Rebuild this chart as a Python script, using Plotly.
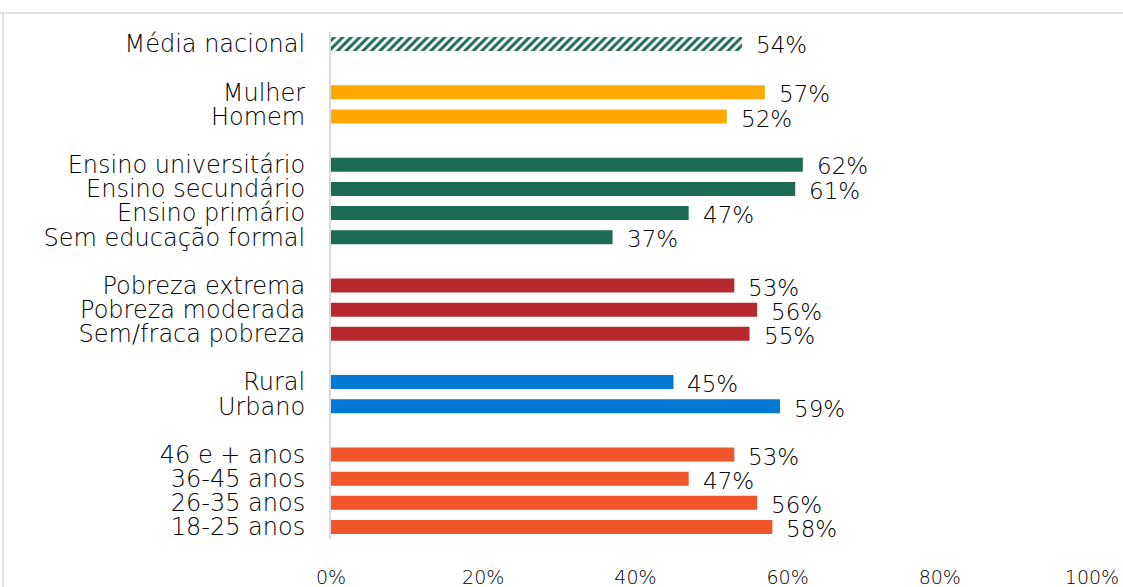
import plotly.graph_objects as go

categories = ["Média nacional", "", "Mulher", "Homem", "",
              "Ensino universitário", "Ensino secundário", "Ensino primário", "Sem educação formal", "",
              "Pobreza extrema", "Pobreza moderada", "Sem/fraca pobreza", "",
              "Rural", "Urbano", "",
              "46 e + anos", "36-45 anos", "26-35 anos", "18-25 anos"]
values = [54, None, 57, 52, None,
          62, 61, 47, 37, None,
          53, 56, 55, None,
          45, 59, None,
          53, 47, 56, 58]
colors = ["#1B6B55", None, "#FFA800", "#FFA800", None,
          "#1B6B55", "#1B6B55", "#1B6B55", "#1B6B55", None,
          "#B8292F", "#B8292F", "#B8292F", None,
          "#0277D4", "#0277D4", None,
          "#F1552B", "#F1552B", "#F1552B", "#F1552B"]
label_dy = [-1, 0, -2, -2, 0, -1, -2, -2, -2, 0, -2, -2, -2, 0, -2, -3, 0, -2, -2, -2, -2]

FONT = "DejaVu Sans"
WEIGHT = 200
pos = list(range(len(categories)))
idx = [i for i in pos if values[i] is not None]

fig = go.Figure()
fig.add_trace(go.Bar(
    x=[values[0]], y=[0], orientation="h", width=0.58,
    marker=dict(color="white", line=dict(width=0),
                pattern=dict(shape="/", fgcolor="#1B6B55", bgcolor="white", fgopacity=1,
                             fillmode="replace", size=6, solidity=0.5)),
    showlegend=False, hoverinfo="skip"))
rest = [i for i in idx if i != 0]
fig.add_trace(go.Bar(
    x=[values[i] for i in rest], y=rest, orientation="h", width=0.58,
    marker=dict(color=[colors[i] for i in rest], line=dict(width=0)),
    showlegend=False, hoverinfo="skip"))

for i in idx:
    fig.add_annotation(x=values[i], y=i, text=f"{values[i]}%", showarrow=False,
                       xanchor="left", xshift=12, yshift=label_dy[i],
                       font=dict(family=FONT, size=23, color="#000000", weight=WEIGHT))

fig.update_layout(
    width=1123, height=587, plot_bgcolor="white", paper_bgcolor="white",
    margin=dict(l=331, r=31, t=32, b=48),
    font=dict(family=FONT, size=24, color="#000000", weight=WEIGHT),
    xaxis=dict(range=[0, 100], tickvals=[0, 20, 40, 60, 80, 100],
               ticktext=["0%", "20%", "40%", "60%", "80%", "100%"],
               showgrid=False, zeroline=False, showline=False, ticks="", automargin=False,
               tickfont=dict(family=FONT, size=19, color="#000000", weight=WEIGHT), ticklabelstandoff=25),
    yaxis=dict(range=[20.5, -0.5], tickvals=pos, ticktext=categories, automargin=False,
               showgrid=False, zeroline=False, showline=True, linecolor="#d9d9d9", linewidth=2,
               ticks="", tickfont=dict(family=FONT, size=24, color="#000000", weight=WEIGHT),
               ticklabelstandoff=19),
    shapes=[
        dict(type="line", xref="paper", yref="paper", x0=-0.45, x1=1.1,
             y0=(539 - 13) / 507, y1=(539 - 13) / 507, line=dict(color="#d9d9d9", width=1.5)),
        dict(type="line", xref="paper", yref="paper", x0=(3 - 331) / 761, x1=(3 - 331) / 761,
             y0=(539 - 13) / 507, y1=-0.2, line=dict(color="#d9d9d9", width=1.5)),
    ],
)
fig.write_html("out.html", post_script="document.body.style.margin='0';",
               config={"displayModeBar": False})
